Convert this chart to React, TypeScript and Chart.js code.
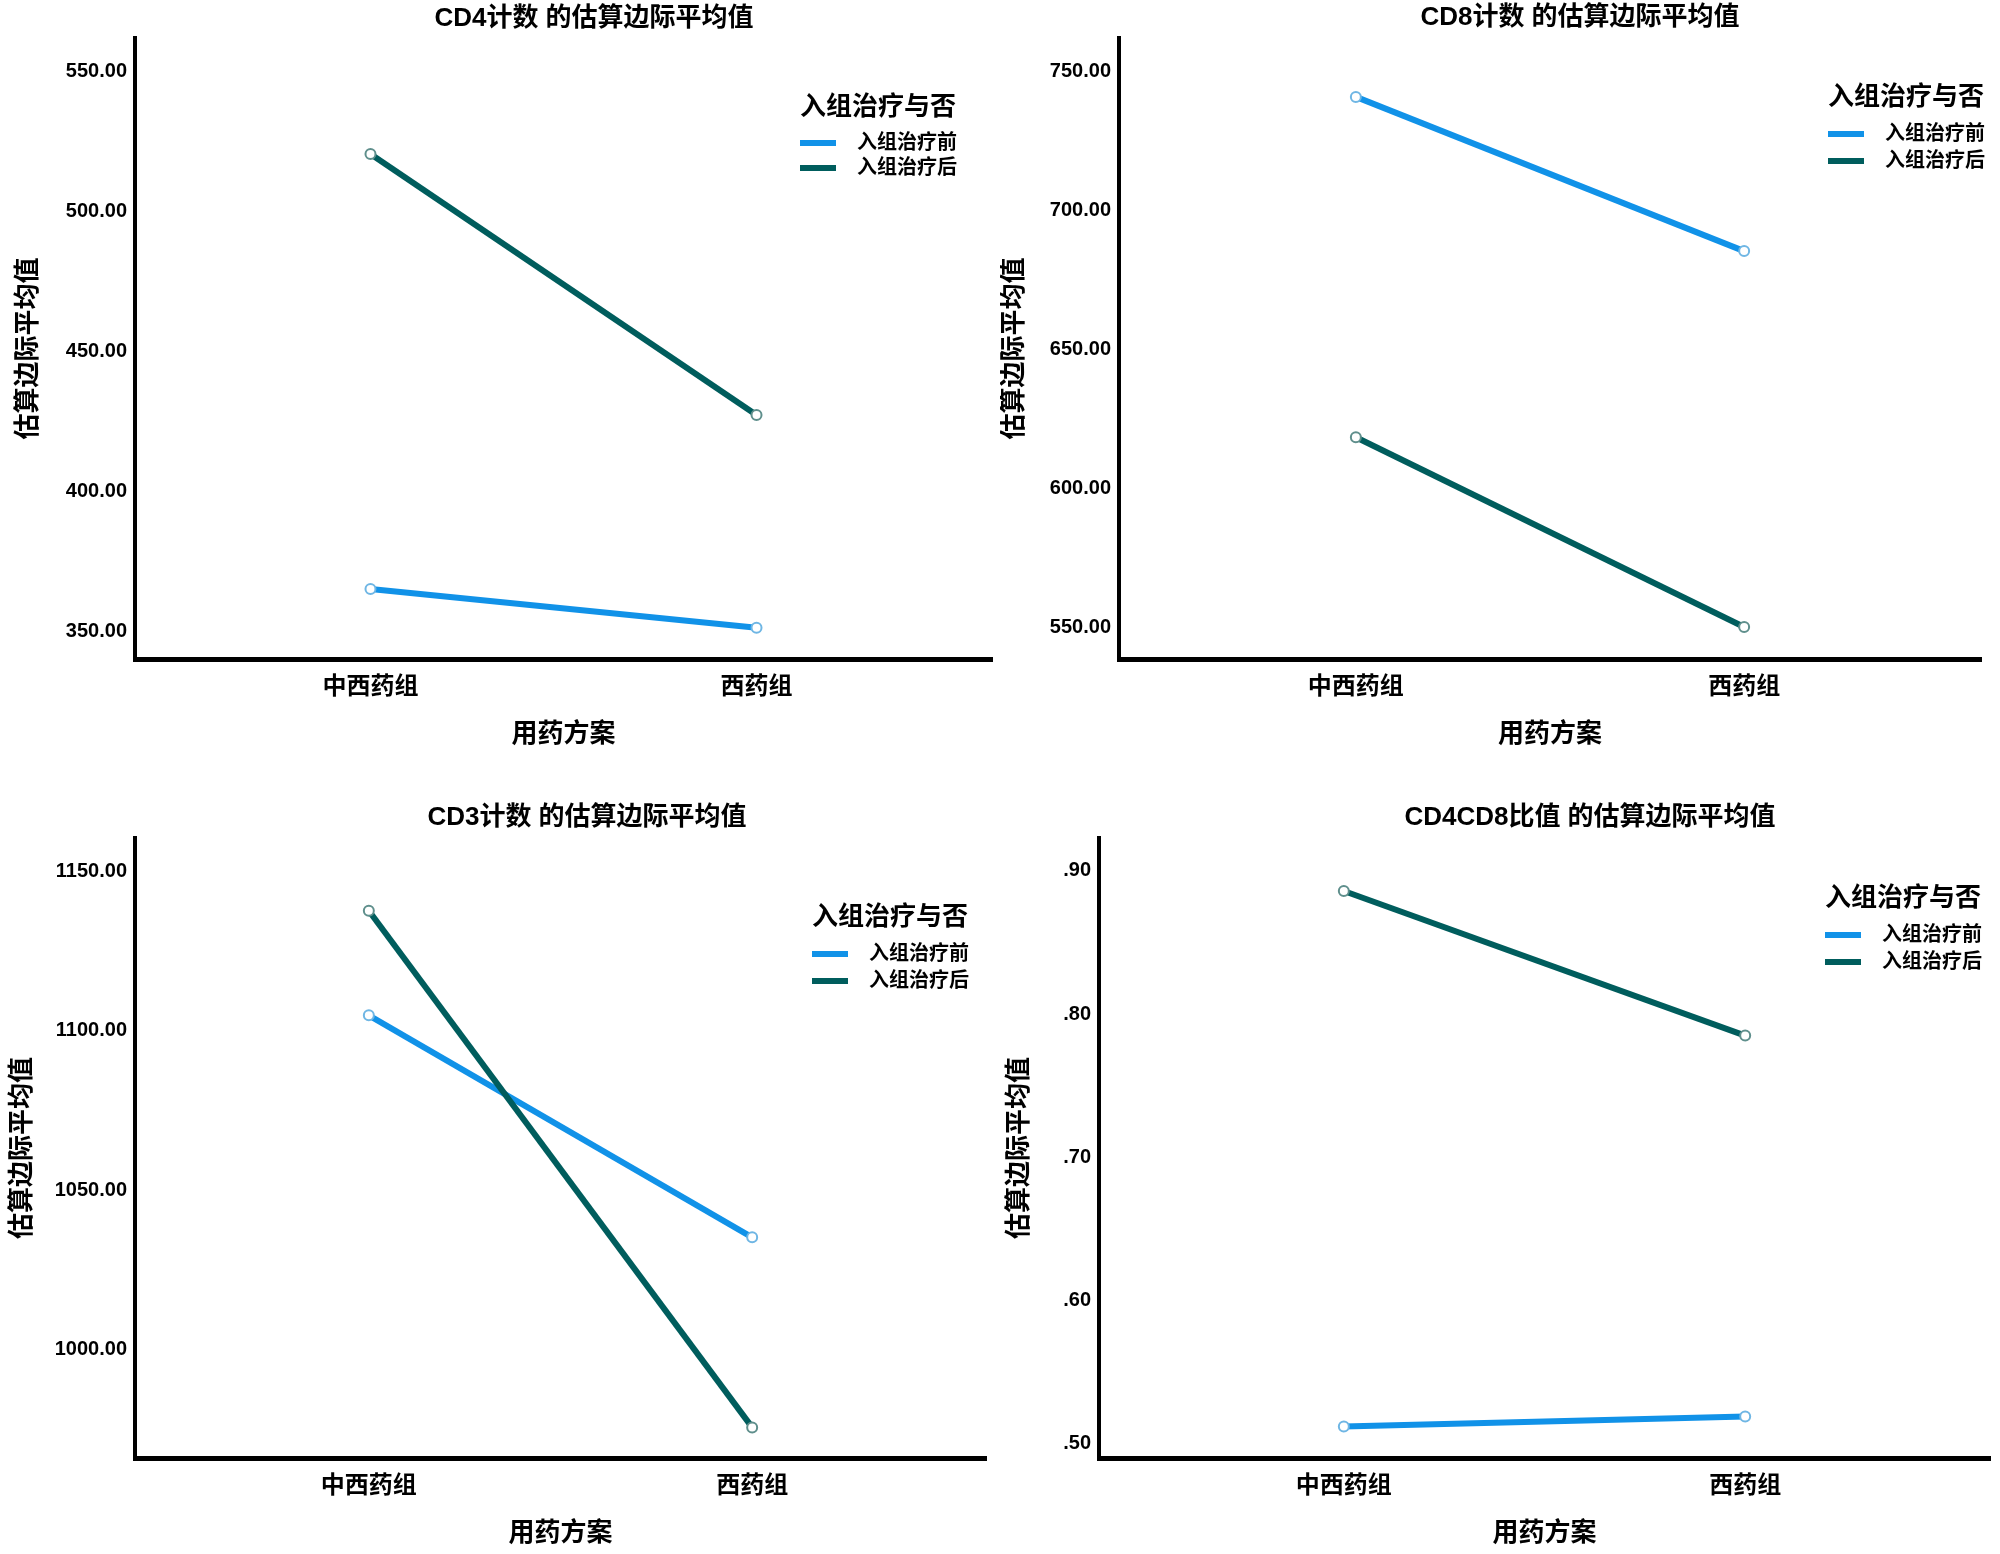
import React, { useEffect, useRef } from 'react';
import { Chart, registerables } from 'chart.js';

Chart.register(...registerables);

// ---------- data ----------
const categories = ['中西药组', '西药组'];
const seriesNames = ['入组治疗前', '入组治疗后'];
const legendTitle = '入组治疗与否';
const xAxisTitle = '用药方案';
const yAxisTitle = '估算边际平均值';

const cd4Before = [365.0, 351.2];
const cd4After = [520.5, 427.2];
const cd4Ticks = [350, 400, 450, 500, 550];

const cd8Before = [740.8, 685.3];
const cd8After = [618.3, 550.0];
const cd8Ticks = [550, 600, 650, 700, 750];

const cd3Before = [1104.8, 1035.2];
const cd3After = [1137.6, 975.6];
const cd3Ticks = [1000, 1050, 1100, 1150];

const ratioBefore = [0.512, 0.519];
const ratioAfter = [0.886, 0.785];
const ratioTicks = [0.5, 0.6, 0.7, 0.8, 0.9];

const titles = [
  'CD4计数 的估算边际平均值',
  'CD8计数 的估算边际平均值',
  'CD3计数 的估算边际平均值',
  'CD4CD8比值 的估算边际平均值',
];

// ---------- styling / layout ----------
const BLUE = '#1192e8';
const TEAL = '#005d5d';
const BLUE_PT = '#6fb6e4';
const TEAL_PT = '#5f8f8c';
const W = 1000;
const H = 777;
const FONT = "'Liberation Sans', Arial, 'Noto Sans CJK SC', sans-serif";

const fmt2 = (v: number) => v.toFixed(2);
const fmtRatio = (v: number) => v.toFixed(2).replace(/^0/, '');

type Panel = {
  title: string;
  before: number[];
  after: number[];
  ticks: number[];
  yMin: number;
  yMax: number;
  fmt: (v: number) => string;
  pos: { left: number; top: number };
  area: { l: number; t: number; r: number; b: number };
  titleXY: [number, number];
  legend: { x: number; ty: number; y1: number; y2: number };
  yTitleX: number;
  xTitleY: number;
};

const panels: Panel[] = [
  {
    title: titles[0], before: cd4Before, after: cd4After, ticks: cd4Ticks,
    yMin: 340, yMax: 562, fmt: fmt2,
    pos: { left: 0, top: 0 },
    area: { l: 135, t: 38, r: 992, b: 659 },
    titleXY: [594, 19],
    legend: { x: 800, ty: 108, y1: 143, y2: 168 },
    yTitleX: 29, xTitleY: 735,
  },
  {
    title: titles[1], before: cd8Before, after: cd8After, ticks: cd8Ticks,
    yMin: 538.5, yMax: 762, fmt: fmt2,
    pos: { left: 1000, top: 0 },
    area: { l: 119, t: 38, r: 981, b: 659 },
    titleXY: [580, 18],
    legend: { x: 828, ty: 98, y1: 134, y2: 161 },
    yTitleX: 15, xTitleY: 735,
  },
  {
    title: titles[2], before: cd3Before, after: cd3After, ticks: cd3Ticks,
    yMin: 966, yMax: 1160.4, fmt: fmt2,
    pos: { left: 0, top: 777 },
    area: { l: 135, t: 61, r: 986, b: 681 },
    titleXY: [587, 41],
    legend: { x: 812, ty: 141, y1: 177, y2: 204 },
    yTitleX: 23, xTitleY: 757,
  },
  {
    title: titles[3], before: ratioBefore, after: ratioAfter, ticks: ratioTicks,
    yMin: 0.49, yMax: 0.923, fmt: fmtRatio,
    pos: { left: 1000, top: 777 },
    area: { l: 99, t: 61, r: 990, b: 681 },
    titleXY: [590, 41],
    legend: { x: 825, ty: 122, y1: 158, y2: 185 },
    yTitleX: 20, xTitleY: 757,
  },
];

const decorPlugin = {
  id: 'panelDecor',
  afterDraw(chart: any, _args: any, opts: any) {
    const p: Panel = opts.panel;
    if (!p) return;
    const ctx = chart.ctx;
    ctx.save();
    ctx.fillStyle = '#000';
    ctx.textBaseline = 'middle';
    // title
    ctx.font = `bold 26px ${FONT}`;
    ctx.textAlign = 'center';
    ctx.fillText(p.title, p.titleXY[0], p.titleXY[1]);
    // legend
    ctx.textAlign = 'left';
    ctx.font = `bold 26px ${FONT}`;
    ctx.fillText(legendTitle, p.legend.x, p.legend.ty);
    const items = [
      { name: seriesNames[0], color: BLUE, y: p.legend.y1 },
      { name: seriesNames[1], color: TEAL, y: p.legend.y2 },
    ];
    ctx.font = `bold 20px ${FONT}`;
    items.forEach((it) => {
      ctx.strokeStyle = it.color;
      ctx.lineWidth = 6;
      ctx.beginPath();
      ctx.moveTo(p.legend.x, it.y);
      ctx.lineTo(p.legend.x + 36, it.y);
      ctx.stroke();
      ctx.fillStyle = '#000';
      ctx.fillText(it.name, p.legend.x + 57, it.y);
    });
    ctx.restore();
  },
};

function PanelChart({ panel }: { panel: Panel }) {
  const ref = useRef<HTMLCanvasElement | null>(null);
  useEffect(() => {
    if (!ref.current) return;
    const a = panel.area;
    const mk = (vals: number[]) => vals.map((v, i) => ({ x: i, y: v }));
    const chart = new Chart(ref.current, {
      type: 'line',
      data: {
        datasets: [
          {
            label: seriesNames[0],
            data: mk(panel.before),
            borderColor: BLUE,
            borderWidth: 6,
            pointRadius: 5,
            pointBorderWidth: 2,
            pointBackgroundColor: '#ffffff',
            pointBorderColor: BLUE_PT,
            order: 1,
          },
          {
            label: seriesNames[1],
            data: mk(panel.after),
            borderColor: TEAL,
            borderWidth: 6,
            pointRadius: 5,
            pointBorderWidth: 2,
            pointBackgroundColor: '#ffffff',
            pointBorderColor: TEAL_PT,
            order: 0,
          },
        ],
      },
      options: {
        responsive: false,
        animation: false,
        devicePixelRatio: 1,
        layout: { padding: { left: 0, top: a.t, right: W - a.r, bottom: 0 } },
        plugins: {
          legend: { display: false },
          title: { display: false },
          tooltip: { enabled: false },
          // @ts-ignore
          panelDecor: { panel },
        },
        scales: {
          x: {
            type: 'linear',
            min: -0.61,
            max: 1.61,
            grid: { display: false, drawTicks: false },
            border: { display: true, color: '#000', width: 5 },
            afterFit: (s: any) => { s.height = H - a.b; },
            afterBuildTicks: (s: any) => { s.ticks = categories.map((_, i) => ({ value: i })); },
            ticks: {
              padding: 14,
              color: '#000',
              font: { family: FONT, size: 24, weight: 'bold' },
              callback: (v: any) => categories[v as number] ?? '',
            },
            title: {
              display: true,
              text: xAxisTitle,
              color: '#000',
              font: { family: FONT, size: 26, weight: 'bold', lineHeight: 1 },
              padding: { top: 0, bottom: H - 13 - panel.xTitleY },
            },
          },
          y: {
            type: 'linear',
            min: panel.yMin,
            max: panel.yMax,
            grid: { display: false, drawTicks: false },
            border: { display: true, color: '#000', width: 4 },
            afterFit: (s: any) => { s.width = a.l; },
            afterBuildTicks: (s: any) => { s.ticks = panel.ticks.map((v) => ({ value: v })); },
            ticks: {
              padding: 8,
              color: '#000',
              font: { family: FONT, size: 20, weight: 'bold' },
              callback: (v: any) => panel.fmt(v as number),
            },
            title: {
              display: true,
              text: yAxisTitle,
              color: '#000',
              font: { family: FONT, size: 26, weight: 'bold', lineHeight: 1 },
              padding: { top: panel.yTitleX - 13, bottom: 0 },
            },
          },
        },
      } as any,
      plugins: [decorPlugin],
    });
    return () => chart.destroy();
  }, [panel]);
  return (
    <canvas
      ref={ref}
      width={W}
      height={H}
      style={{ position: 'absolute', left: panel.pos.left, top: panel.pos.top, width: W, height: H }}
    />
  );
}

export default function App() {
  return (
    <div style={{ position: 'fixed', left: 0, top: 0, width: 2000, height: 1554, background: '#fff' }}>
      {panels.map((p, i) => (
        <PanelChart key={i} panel={p} />
      ))}
    </div>
  );
}
